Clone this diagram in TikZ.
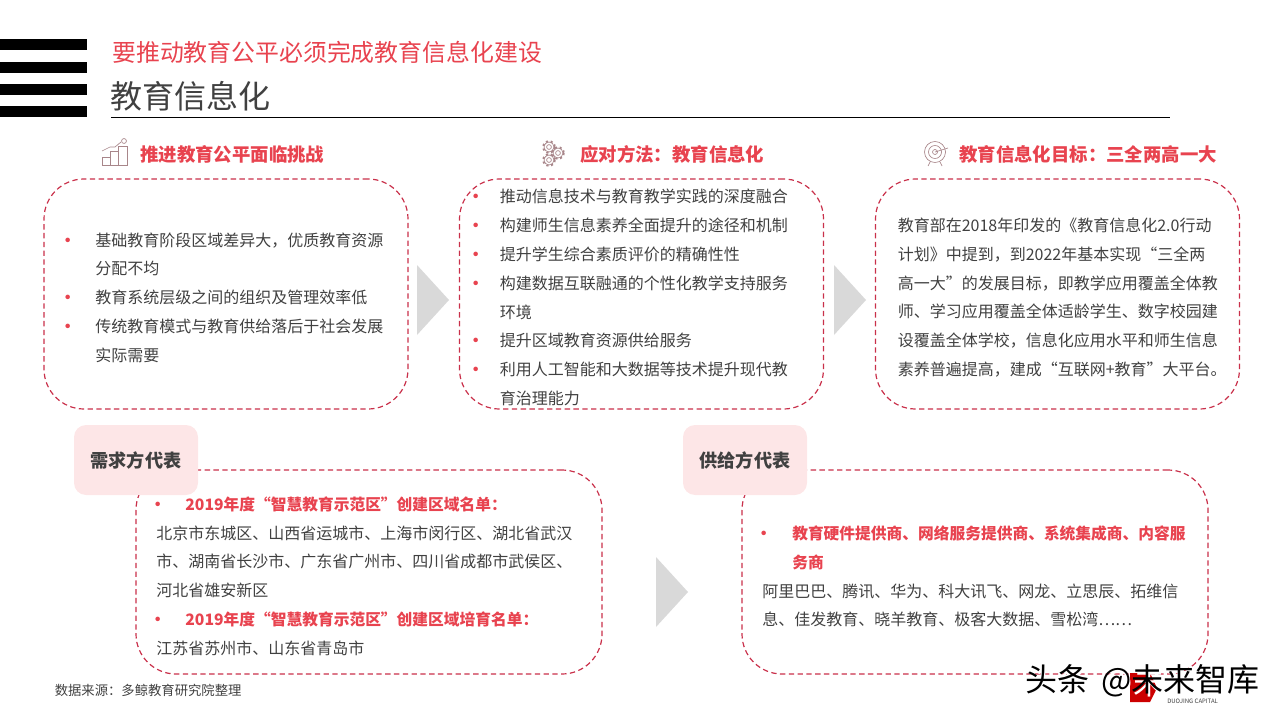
\documentclass[tikz,border=0pt]{standalone}
\usepackage{fontspec}
\usepackage{xcolor}
\setmainfont{Noto Sans CJK SC}
\usetikzlibrary{positioning}
\definecolor{dashred}{HTML}{C9304A}
\definecolor{headred}{HTML}{E8434F}
\definecolor{tagpink}{HTML}{FDE6E7}
\definecolor{bodygray}{HTML}{404040}
\definecolor{chevgray}{HTML}{D9D9D9}
\definecolor{icongray}{HTML}{A8868A}
\newcommand{\dotmark}{\raisebox{-1.6pt}[0pt][0pt]{\textcolor{headred}{\fontsize{16}{21.6}\selectfont •}}}
\newcommand{\itm}{\makebox[21pt][l]{\hspace*{-7.3pt}\dotmark}}
\newcommand{\itmb}{\makebox[18pt][l]{\hspace*{-7.5pt}\dotmark}}
\newcommand{\hng}{\hspace*{21pt}}
\newcommand{\redline}[1]{\textcolor{headred}{\fontsize{11.8}{21.6}\selectfont\bfseries #1}}
\tikzset{
  dashbox/.style={draw=dashred, line width=.9pt, dash pattern=on 4pt off 2.6pt, rounded corners=30pt, minimum width=273pt, minimum height=172.5pt, inner sep=0pt},
  lowbox/.style={dashbox, minimum width=349.5pt, minimum height=153pt},
  tagbox/.style={fill=tagpink, rounded corners=9pt, minimum width=93pt, minimum height=52.5pt, inner sep=0pt, text=bodygray, font=\fontsize{13.6}{16}\selectfont\bfseries},
  bodytext/.style={anchor=west, inner sep=0pt, align=left, text=bodygray, font=\fontsize{12}{21.6}\selectfont},
  headtext/.style={inner sep=0pt, text=headred, font=\fontsize{13.8}{16}\selectfont\bfseries},
  chevron/.style={fill=chevgray},
  iconline/.style={draw=icongray, line width=.5pt}
}
\begin{document}
\begin{tikzpicture}[x=0.75pt, y=-0.75pt]
  \useasboundingbox (0,0) rectangle (1280,720);

  % bars and title
  \foreach \ybar in {39,62,84,106}
    \fill[black] (0,\ybar) rectangle (87,\ybar+11);
  \node (subtitle) [anchor=west, inner sep=0pt, text=headred, font=\fontsize{17.9}{20}\selectfont] at (112,52) {要推动教育公平必须完成教育信息化建设};
  \node (title) [anchor=west, inner sep=0pt, text=bodygray, font=\fontsize{24}{28}\selectfont] at (110,96) {教育信息化};
  \coordinate (rulea) at (111,117.5);
  \coordinate (ruleb) at (1170,117.5);
  \draw[black, line width=.75pt] (rulea) -- (ruleb);

  % icons
  \draw[iconline] (102,165) rectangle (110,157) (110,165) rectangle (118,151) (118,165) rectangle (127,146);
  \draw[iconline] (102,151) -- (110,147) -- (115,147) -- (121,142);
  \node (star) [draw=icongray, line width=.5pt, circle, inner sep=1.3pt] at (124,141) {};
  \foreach \xgear/\ygear in {549/147,558/153,549/160}{
    \draw[iconline] (\xgear,\ygear) circle (2.4);
    \draw[iconline] (\xgear,\ygear) circle (5);
    \draw[icongray, line width=1.4pt, dash pattern=on 1.6pt off 2pt] (\xgear,\ygear) circle (5.8);
  }
  \draw[iconline] (935,152) circle (10.5) (935,152) circle (6.5) (935,152) circle (2.5);
  \draw[iconline] (935,152) -- (948,148) (930,162) -- (928,166) (940,162) -- (942,166);

  % headings
  \coordinate (icona) at (128,154);
  \coordinate (iconb) at (568,154);
  \coordinate (iconc) at (947,154);
  \node (heada) [headtext, right=9pt of icona] {推进教育公平面临挑战};
  \node (headb) [headtext, right=9pt of iconb] {应对方法：教育信息化};
  \node (headc) [headtext, right=9pt of iconc] {教育信息化目标：三全两高一大};

  % upper boxes
  \node (boxa) [dashbox] at (226,294) {};
  \node (boxb) [dashbox] at (641.5,294) {};
  \node (boxc) [dashbox] at (1057.5,294) {};
  \node (texta) [bodytext] at (67,297.5) {\itm 基础教育阶段区域差异大，优质教育资源\\\hng 分配不均\\\itm 教育系统层级之间的组织及管理效率低\\\itm 传统教育模式与教育供给落后于社会发展\\\hng 实际需要};
  \node (textb) [bodytext] at (475.5,297.5) {\itmb 推动信息技术与教育教学实践的深度融合\\
    \itmb 构建师生信息素养全面提升的途径和机制\\
    \itmb 提升学生综合素质评价的精确性性\\
    \itmb 构建数据互联融通的个性化教学支持服务\\
    \hspace*{18pt}环境\\
    \itmb 提升区域教育资源供给服务\\
    \itmb 利用人工智能和大数据等技术提升现代教\\
    \hspace*{18pt}育治理能力};
  \node (textc) [bodytext] at (897.5,297.5) {教育部在2018年印发的《教育信息化2.0行动\\计划》中提到，到2022年基本实现“三全两\\高一大”的发展目标，即教学应用覆盖全体教\\师、学习应用覆盖全体适龄学生、数字校园建\\设覆盖全体学校，信息化应用水平和师生信息\\素养普遍提高，建成“互联网+教育”大平台。};

  % chevrons
  \fill[chevron] (417,265) -- (449,300) -- (417,335) -- cycle;
  \fill[chevron] (834,265) -- (866,300) -- (834,335) -- cycle;
  \fill[chevron] (656,557) -- (688,592) -- (656,627) -- cycle;

  % lower boxes
  \node (boxd) [lowbox] at (369,572) {};
  \node (boxe) [lowbox] at (975,572) {};
  \node (tagd) [tagbox] at (136,460) {需求方代表};
  \node (tage) [tagbox] at (745,460) {供给方代表};
  \node (textd) [bodytext] at (156,576) {\makebox[21.8pt][l]{\hspace*{-6.5pt}\dotmark}\redline{2019年度“智慧教育示范区”创建区域名单：}\\
    北京市东城区、山西省运城市、上海市闵行区、湖北省武汉\\
    市、湖南省长沙市、广东省广州市、四川省成都市武侯区、\\
    河北省雄安新区\\
    \makebox[21.8pt][l]{\hspace*{-6.5pt}\dotmark}\redline{2019年度“智慧教育示范区”创建区域培育名单：}\\
    江苏省苏州市、山东省青岛市};
  \node (texte) [bodytext] at (762,576.5) {\makebox[22.5pt][l]{\hspace*{-6.5pt}\dotmark}\redline{教育硬件提供商、网络服务提供商、系统集成商、内容服}\\
    \hspace*{22.5pt}\redline{务商}\\
    阿里巴巴、腾讯、华为、科大讯飞、网龙、立思辰、拓维信\\
    息、佳发教育、晓羊教育、极客大数据、雪松湾……};

  % source
  \node (source) [anchor=west, inner sep=0pt, text=bodygray, font=\fontsize{10}{12}\selectfont] at (54.5,690) {数据来源：多鲸教育研究院整理};

  % watermark
  \fill[red!80!black] (1130,673) -- (1150,673) -- (1157,688) -- (1150,702) -- (1130,702) -- cycle;
  \node (capital) [anchor=west, inner sep=0pt, text=bodygray, font=\fontsize{4.5}{5}\selectfont] at (1167,701) {DUOJING CAPITAL};
  \node (markwhite) [anchor=west, inner sep=0pt, text=white, font=\fontsize{24}{28}\selectfont] at (1026.5,683.5) {头条\hspace{9pt}@未来智库};
  \node (mark) [anchor=west, inner sep=0pt, text=black, font=\fontsize{24}{28}\selectfont] at (1025,681) {头条\hspace{9pt}@未来智库};
\end{tikzpicture}
\end{document}
